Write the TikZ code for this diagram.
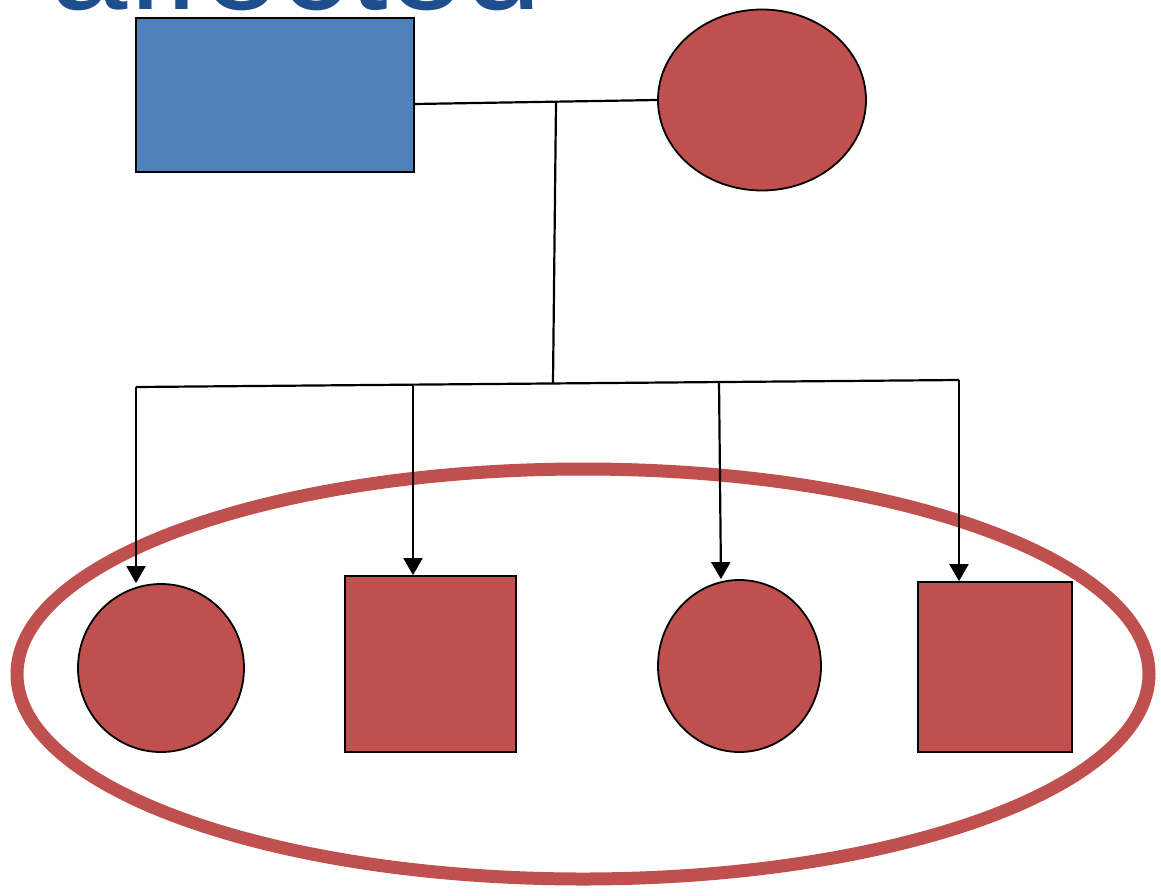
\documentclass[tikz,border=0pt]{standalone}
\usepackage{fontspec}
\setmainfont{Liberation Sans}
\usetikzlibrary{shapes.geometric,arrows.meta}
\definecolor{maleblue}{RGB}{79,129,189}
\definecolor{affred}{RGB}{192,80,77}
\definecolor{titleblue}{RGB}{31,78,140}
\tikzset{
  person/.style={draw=black, line width=1.8pt, inner sep=0pt, fill=affred},
  male/.style={person, rectangle},
  female/.style={person, ellipse},
  link/.style={draw=black, line width=2.2pt},
  drop/.style={link, -{Triangle[width=19pt,length=17pt]}},
  group/.style={draw=affred, line width=13pt}
}
\begin{document}
\begin{tikzpicture}[x=1pt,y=-1pt]
  \useasboundingbox (0,0) rectangle (1161,895);
  \fill[white] (0,0) rectangle (1161,895);

  % heading, mostly above the page edge
  \node[anchor=base west, inner sep=0pt, text=titleblue,
        font=\fontsize{139}{150}\selectfont] (title) at (50,9) {affected};

  % circle around the affected children
  \draw[group] (583,674) ellipse [x radius=566, y radius=205];

  % parents
  \node[male, fill=maleblue, minimum width=278pt, minimum height=154pt] (father) at (275,95) {};
  \node[female, minimum width=208pt, minimum height=181pt] (mother) at (762,100) {};

  % children
  \node[female, minimum width=166pt, minimum height=168pt] (c1) at (161,668) {};
  \node[male, minimum width=171pt, minimum height=176pt] (c2) at (430.5,664) {};
  \node[female, minimum width=163pt, minimum height=172pt] (c3) at (739.5,666) {};
  \node[male, minimum width=154pt, minimum height=170pt] (c4) at (995,667) {};

  % marriage and descent lines
  \coordinate (mid) at (556,102);
  \coordinate (sib) at (553,383);
  \coordinate (d1) at (136,387);
  \coordinate (d2) at (413,386);
  \coordinate (d3) at (719,381);
  \coordinate (d4) at (959,380);

  \draw[link] ([yshift=-9pt]father.east) -- (mother.west);
  \draw[link] (mid) -- (sib);
  \draw[link] (d1) -- (d4);

  \draw[drop] (d1) -- (d1 |- c1.north);
  \draw[drop] (d2) -- (d2 |- c2.north);
  \draw[drop] (d3) -- ([xshift=2pt]d3 |- c3.north);
  \draw[drop] (d4) -- (d4 |- c4.north);
\end{tikzpicture}
\end{document}
